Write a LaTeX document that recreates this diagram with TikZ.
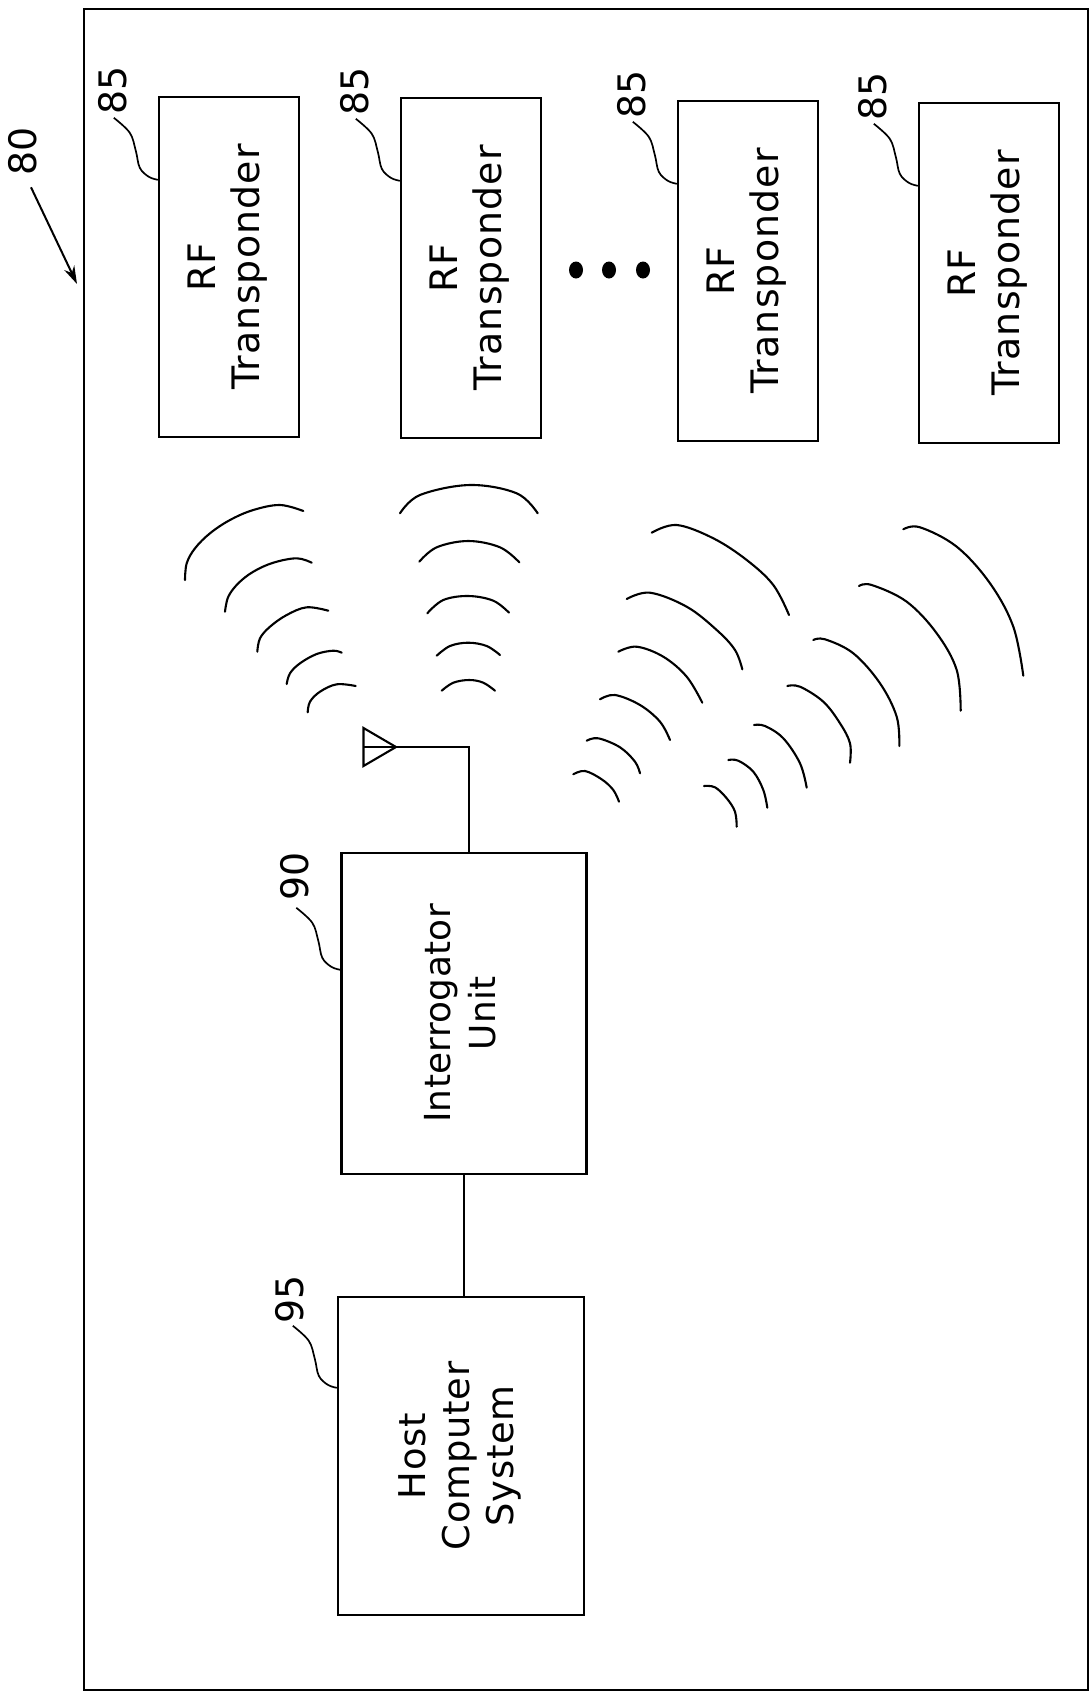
\documentclass[tikz,border=0pt]{standalone}
\usepackage{fontspec}
\setmainfont{DejaVu Sans}
\usetikzlibrary{calc,arrows.meta}
\newcommand\leaderline[2]{%
  \draw[lead] plot[smooth,tension=0.6] coordinates {
    ($(#1.north west)+(-44,#2)$)
    ($(#1.north west)+(-28,#2+15)$)
    ($(#1.north west)+(-22,#2+33)$)
    ($(#1.north west)+(-18,#2+50)$)
    ($(#1.north west)+(-9,#2+59)$)
    ($(#1.north west)+(0,#2+62)$)};}
\newcommand\vtext[1]{\rotatebox{90}{\begin{tabular}{@{}c@{}}#1\end{tabular}}}
\begin{document}
\begin{tikzpicture}[x=1bp,y=-1bp,
  box/.style={draw,line width=2.4bp,inner sep=0pt,minimum width=140bp,minimum height=340bp},
  trtext/.style={font=\fontsize{38}{44}\selectfont\addfontfeatures{LetterSpace=3}},
  lbl/.style={inner sep=0pt,font=\fontsize{38}{38}\selectfont},
  wave/.style={line width=2.1bp,line cap=round},
  lead/.style={line width=1.7bp},
  conn/.style={line width=2.1bp},
  frame/.style={line width=2.5bp},
  arr/.style={line width=2bp,-{Stealth[length=18bp,width=11bp]}}]
\useasboundingbox (0,0) rectangle (1091,1701);
\draw[frame] (84,9) rectangle (1088,1690);

% transponders
\node[box,trtext] (tr1) at (229,267) {\vtext{RF\\Transponder}};
\node[box,trtext] (tr2) at (471,268) {\vtext{RF\\Transponder}};
\node[box,trtext] (tr3) at (748,271) {\vtext{RF\\Transponder}};
\node[box,trtext] (tr4) at (989,273) {\vtext{RF\\Transponder}};

\node[lbl] (l85a) at (113,90) {\rotatebox{90}{85}};
\node[lbl] (l85b) at (355,91) {\rotatebox{90}{85}};
\node[lbl] (l85c) at (632,94) {\rotatebox{90}{85}};
\node[lbl] (l85d) at (873,96) {\rotatebox{90}{85}};
\leaderline{tr1}{22}
\leaderline{tr2}{22}
\leaderline{tr3}{22}
\leaderline{tr4}{22}

% dots
\fill (576,270) ellipse [x radius=7, y radius=8.5];
\fill (609,270) ellipse [x radius=7, y radius=8.5];
\fill (643,270) ellipse [x radius=7, y radius=8.5];

% interrogator and host
\node[box,minimum width=245bp,minimum height=321bp,font=\fontsize{36}{45}\selectfont\addfontfeatures{LetterSpace=1}] (iu) at (464,1013.5) {\vtext{Interrogator\\Unit}};
\node[box,minimum width=246bp,minimum height=318bp,font=\fontsize{37}{44}\selectfont\addfontfeatures{LetterSpace=2}] (hc) at (461,1456) {\vtext{Host\\Computer\\System}};
\node[lbl] (l90) at (295,876) {\rotatebox{90}{90}};
\node[lbl] (l95) at (290,1299) {\rotatebox{90}{95}};
\leaderline{iu}{56}
\leaderline{hc}{30}
\draw[conn] (iu.south) -- (iu.south |- hc.north);

% antenna
\coordinate (ant) at (396,747);
\draw[conn,line join=miter] (363.5,728) -- (ant) -- (363.5,766) -- cycle;
\draw[conn] (363.5,747) -- (ant);
\draw[conn] (ant) -- (ant -| 469,0) -- ($(iu.north)+(5,0)$);

% 80 label and arrow
\node[lbl] (l80) at (23,151) {\rotatebox{90}{80}};
\coordinate (a80) at (77,284);
\draw[arr] ($(l80.south)+(8,12)$) -- (a80);

% waves: left group
\draw[wave] plot[smooth,tension=0.6] coordinates {(185,580) (186.7,563.3) (195,548.3) (210,533.3) (230,520) (253.3,510) (280,505) (303.3,511)};
\draw[wave] plot[smooth,tension=0.6] coordinates {(225,611.7) (228.3,596.7) (238.3,583.3) (253.3,571.7) (273.3,562.7) (296.7,558.3) (311.7,562.7)};
\draw[wave] plot[smooth,tension=0.6] coordinates {(257.3,651.7) (260,638.3) (270,626.7) (286.7,615) (306.7,607.3) (328.3,610.7)};
\draw[wave] plot[smooth,tension=0.6] coordinates {(286.7,684) (290,673.3) (300,663.3) (316.7,654) (333.3,650.7) (341.7,652.7)};
\draw[wave] plot[smooth,tension=0.6] coordinates {(307.7,712.3) (310,701.7) (320,691.7) (336.7,684.3) (355.7,686)};
% middle group
\draw[wave] plot[smooth,tension=0.6] coordinates {(400,513.3) (420,495) (470,485) (516.7,493.3) (537.7,513.3)};
\draw[wave] plot[smooth,tension=0.6] coordinates {(419.3,561.7) (436.7,547.3) (468.3,541) (500,547.3) (519.3,562.3)};
\draw[wave] plot[smooth,tension=0.6] coordinates {(427.3,613.3) (443.3,600) (468.3,596) (493.3,600.7) (509,612.7)};
\draw[wave] plot[smooth,tension=0.6] coordinates {(436.7,655.7) (450,646) (468.3,642.7) (486.7,646) (500,655)};
\draw[wave] plot[smooth,tension=0.6] coordinates {(441.7,690.7) (453.3,682.7) (469.3,680) (483.3,682.7) (495,690.7)};
% right group 1
\draw[wave] plot[smooth,tension=0.6] coordinates {(651.7,532.7) (676.7,525) (713.3,538.3) (746.7,560) (773.3,585) (789,615)};
\draw[wave] plot[smooth,tension=0.6] coordinates {(626.7,599) (650,592.7) (686.7,606.7) (716.7,630) (735,650) (742.3,669.3)};
\draw[wave] plot[smooth,tension=0.6] coordinates {(618.3,651.7) (636.7,646.7) (663.3,656.7) (686.7,676.7) (702.3,702.7)};
\draw[wave] plot[smooth,tension=0.6] coordinates {(600,699.3) (615,695) (640,705) (660,721.7) (670,740)};
\draw[wave] plot[smooth,tension=0.6] coordinates {(586.7,740.7) (598.3,738.3) (620,747.3) (635,761.7) (640,773.3)};
\draw[wave] plot[smooth,tension=0.6] coordinates {(573.3,774.3) (585,771) (601.7,779.3) (613.3,790) (619,801.7)};
% right group 2
\draw[wave] plot[smooth,tension=0.6] coordinates {(903.3,529.3) (920,527.3) (956.7,546.7) (990,583.3) (1013.3,626.7) (1023.3,675.7)};
\draw[wave] plot[smooth,tension=0.6] coordinates {(859,586) (871.7,585) (906.7,601.7) (936.7,633.3) (956.7,670) (960.7,710.7)};
\draw[wave] plot[smooth,tension=0.6] coordinates {(813.3,640) (825,639.3) (853.3,653.3) (880,683.3) (896.7,716.7) (899.3,746)};
\draw[wave] plot[smooth,tension=0.6] coordinates {(787.3,686) (800,686.7) (823.3,701.7) (840,723.3) (850,743.3) (850,762.7)};
\draw[wave] plot[smooth,tension=0.6] coordinates {(754,725) (765,726) (783.3,738.3) (800,763.3) (806.7,787.7)};
\draw[wave] plot[smooth,tension=0.6] coordinates {(728.3,760) (738.3,760.7) (753.3,771.7) (763.3,790) (767.3,807.7)};
\draw[wave] plot[smooth,tension=0.6] coordinates {(704,786) (715,787.3) (726.7,798.3) (735,811.7) (736.7,826.7)};
\end{tikzpicture}
\end{document}
